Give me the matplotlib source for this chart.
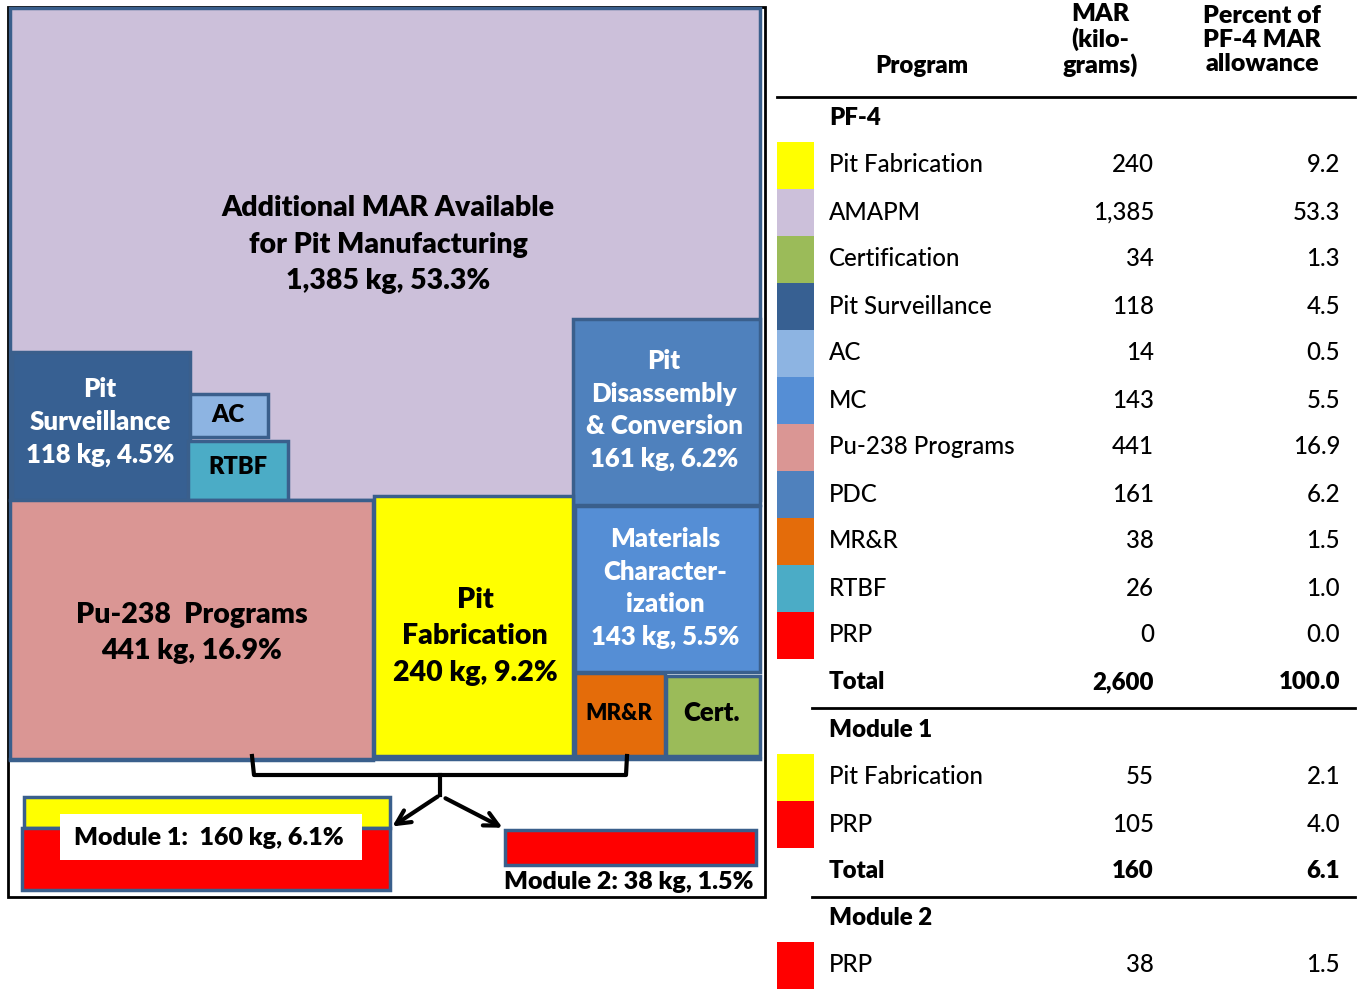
import matplotlib.pyplot as plt
from matplotlib.patches import Rectangle

# ---- data ----
programs = ['Pit Fabrication', 'AMAPM', 'Certification', 'Pit Surveillance', 'AC', 'MC',
            'Pu-238 Programs', 'PDC', 'MR&R', 'RTBF', 'PRP']
mar_kg = [240, 1385, 34, 118, 14, 143, 441, 161, 38, 26, 0]
pct = [9.2, 53.3, 1.3, 4.5, 0.5, 5.5, 16.9, 6.2, 1.5, 1.0, 0.0]
colors = ['#FFFF00', '#CCC0DA', '#9BBB59', '#376092', '#8DB4E2', '#558ED5',
          '#DA9694', '#4F81BD', '#E46C0A', '#4BACC6', '#FF0000']
pf4_total = (2600, 100.0)

mod1_programs = ['Pit Fabrication', 'PRP']
mod1_kg = [55, 105]
mod1_pct = [2.1, 4.0]
mod1_total = (160, 6.1)

mod2_programs = ['PRP']
mod2_kg = [38]
mod2_pct = [1.5]

BORDER = '#3A5F8C'
FONT = 'Lato'
BOLD = 'heavy'
REG = 'medium'

fig = plt.figure(figsize=(13.58, 9.89), dpi=100)
ax = fig.add_axes([0, 0, 1, 1])
ax.set_xlim(0, 1358)
ax.set_ylim(989, 0)
ax.axis('off')

col = dict(zip(programs, colors))
kg = dict(zip(programs, mar_kg))
pc = dict(zip(programs, pct))

def box(x0, y0, x1, y1, c, lw=2.5, z=2):
    ax.add_patch(Rectangle((x0, y0), x1 - x0, y1 - y0, facecolor=c,
                           edgecolor=BORDER, lw=lw, zorder=z))

def lbl(x, y, s, color='black', size=17, ls=1.45):
    ax.text(x, y, s, ha='center', va='center', color=color, fontsize=size,
            fontweight=BOLD, family=FONT, linespacing=ls, zorder=5)

def kgpct(name):
    return f"{kg[name]:,} kg, {pc[name]}%"

# ---- treemap (hand laid out) ----
ax.add_patch(Rectangle((8, 7), 757, 890, facecolor='white', edgecolor='black', lw=2, zorder=0))
box(10, 8, 760, 500, col['AMAPM'], z=1)
box(12, 352, 190, 500, col['Pit Surveillance'])
box(190, 394, 268, 437, col['AC'])
box(188, 441, 288, 500, col['RTBF'])
box(573, 319, 760, 505, col['PDC'])
box(10, 500, 373, 760, col['Pu-238 Programs'])
box(374, 496, 573, 756, col['Pit Fabrication'])
box(575, 506, 760, 672, col['MC'])
box(575, 673, 665, 756, col['MR&R'])
box(666, 676, 760, 756, col['Certification'])
ax.plot([10, 760], [759, 759], color=BORDER, lw=2.5, zorder=3)

lbl(388, 245, "Additional MAR Available\nfor Pit Manufacturing\n" + kgpct('AMAPM'), size=20.5, ls=1.5)
lbl(100, 422, "Pit\nSurveillance\n" + kgpct('Pit Surveillance'), color='white', size=18.5)
lbl(228, 415, "AC", size=17.5)
lbl(238, 467, "RTBF", size=17)
lbl(664, 410, "Pit\nDisassembly\n& Conversion\n" + kgpct('PDC'), color='white', size=18.5, ls=1.42)
lbl(192, 633, "Pu-238  Programs\n" + kgpct('Pu-238 Programs'), size=20.5, ls=1.5)
lbl(475, 636, "Pit\nFabrication\n" + kgpct('Pit Fabrication'), size=20.5, ls=1.5)
lbl(665, 588, "Materials\nCharacter-\nization\n" + kgpct('MC'), color='white', size=18.5, ls=1.42)
lbl(619, 713, "MR&R", size=16)
lbl(712, 713, "Cert.", size=18.5)

# bracket + arrows
ax.plot([252, 254, 440, 626, 627], [756, 775, 775, 775, 756], color='black', lw=3, zorder=4,
        solid_joinstyle='round')
ax.plot([440, 440], [775, 795], color='black', lw=3, zorder=4)
ax.annotate('', xy=(390, 828), xytext=(440, 795),
            arrowprops=dict(arrowstyle='->', lw=3, color='black', mutation_scale=25), zorder=4)
ax.annotate('', xy=(505, 829), xytext=(443, 797),
            arrowprops=dict(arrowstyle='->', lw=3, color='black', mutation_scale=25), zorder=4)

# modules
box(24, 797, 390, 828, col['Pit Fabrication'])
box(22, 828, 390, 890, col['PRP'])
ax.add_patch(Rectangle((60, 814), 302, 46, facecolor='white', edgecolor='none', zorder=4))
ax.text(74, 838, f"Module 1:  {mod1_total[0]} kg, {mod1_total[1]}%", ha='left', va='center',
        fontsize=18, fontweight=BOLD, family=FONT, zorder=5)
box(505, 830, 756, 865, col['PRP'])
ax.text(753, 882, f"Module 2: {sum(mod2_kg)} kg, {sum(mod2_pct)}%", ha='right', va='center',
        fontsize=18, fontweight=BOLD, family=FONT, zorder=5)

# ---- table ----
TF = 17.3
X_NAME, X_KG, X_PCT = 829, 1154, 1340
ROW = 47

def hline(y, x0=777):
    ax.plot([x0, 1355], [y, y], color='black', lw=2)

def row(y, name, k, p, c=None, bold=False):
    w = BOLD if bold else REG
    if c is not None:
        ax.add_patch(Rectangle((777, y - ROW / 2), 37, ROW, facecolor=c, edgecolor='none'))
    ax.text(X_NAME, y, name, ha='left', va='center', fontsize=TF, fontweight=w, family=FONT)
    ax.text(X_KG, y, f"{k:,}", ha='right', va='center', fontsize=TF, fontweight=w, family=FONT)
    ax.text(X_PCT, y, f"{p:.1f}", ha='right', va='center', fontsize=TF, fontweight=w, family=FONT)

def section(y, title):
    ax.text(X_NAME, y, title, ha='left', va='center', fontsize=TF, fontweight=BOLD, family=FONT)

ax.text(922, 66, "Program", ha='center', va='center', fontsize=TF, fontweight=BOLD, family=FONT)
ax.text(1100, 40, "MAR\n(kilo-\ngrams)", ha='center', va='center', fontsize=18,
        fontweight=BOLD, family=FONT, linespacing=1.12)
ax.text(1262, 40, "Percent of\nPF-4 MAR\nallowance", ha='center', va='center', fontsize=18,
        fontweight=BOLD, family=FONT, linespacing=1.12)
hline(97)

y = 118
section(y, "PF-4")
for n, k, p, c in zip(programs, mar_kg, pct, colors):
    y += ROW
    row(y, n, k, p, c)
y += ROW
row(y, "Total", pf4_total[0], pf4_total[1], bold=True)
hline(708, 812)

y = 730
section(y, "Module 1")
for n, k, p in zip(mod1_programs, mod1_kg, mod1_pct):
    y += ROW
    row(y, n, k, p, col[n])
y += ROW
row(y, "Total", mod1_total[0], mod1_total[1], bold=True)
hline(897, 812)

y = 918
section(y, "Module 2")
for n, k, p in zip(mod2_programs, mod2_kg, mod2_pct):
    y += ROW
    row(y, n, k, p, col[n])

fig.savefig('out.png', dpi=100)
